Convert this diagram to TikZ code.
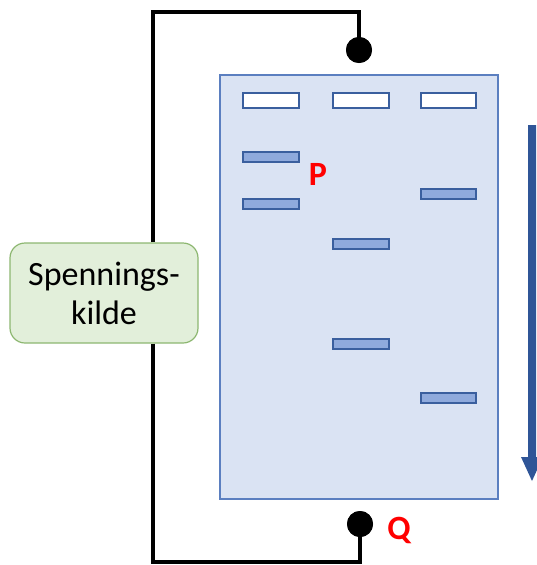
\documentclass[tikz,border=0pt]{standalone}
\usepackage{fontspec}
\setmainfont{Carlito}
\usetikzlibrary{calc}
\definecolor{gelfill}{HTML}{DAE3F3}
\definecolor{gelline}{HTML}{5B7FC0}
\definecolor{bandfill}{HTML}{8FAADC}
\definecolor{bandline}{HTML}{3A5F9E}
\definecolor{arrowblue}{HTML}{2F5597}
\definecolor{boxfill}{HTML}{E2EFDA}
\definecolor{boxline}{HTML}{8DB771}
\tikzset{
  wire/.style={line width=4pt, line join=miter},
  well/.style={draw=bandline, fill=white, line width=1.3pt},
  band/.style={draw=bandline, fill=bandfill, line width=1.3pt},
  electrode/.style={circle, fill=black, minimum size=26pt, inner sep=0pt},
  lbl/.style={text=red, font=\fontsize{34}{40}\selectfont\bfseries},
}
\begin{document}
\begin{tikzpicture}[x=1pt,y=-1pt]
\useasboundingbox (0,0) rectangle (537,565);
% gel
\draw[gelline, fill=gelfill, line width=1.2pt] (220,75) rectangle (498,499);
% wells
\draw[well] (243,93) rectangle (299,108);
\draw[well] (333,93) rectangle (389,108);
\draw[well] (421,93) rectangle (476,108);
% bands
\draw[band] (243,152) rectangle (299,162);
\draw[band] (243,199) rectangle (299,209);
\draw[band] (333,239) rectangle (389,249);
\draw[band] (333,339) rectangle (389,349);
\draw[band] (421,189) rectangle (476,199);
\draw[band] (421,393) rectangle (476,403);
% arrow
\fill[arrowblue] (528,125) -- (536,125) -- (536,457) -- (543,457) -- (532,481) -- (521,457) -- (528,457) -- cycle;
% source box
\node[draw=boxline, fill=boxfill, line width=1.2pt, rounded corners=15pt,
      minimum width=188pt, minimum height=100pt, align=center, inner sep=0pt,
      font=\fontsize{34}{39}\selectfont] (src) at (104,293) {Spennings-\\kilde};
% electrodes
\node[electrode] (top) at (359,50) {};
\node[electrode] (bot) at (360,524) {};
\coordinate (tl) at (153,12);
\coordinate (bl) at (153,562);
% wires
\draw[wire] (src.north -| tl) -- (tl) -- (tl -| top) -- (top.center);
\draw[wire] (src.south -| bl) -- (bl) -- (bl -| bot) -- (bot.center);
\node[electrode] at (top) {};
\node[electrode] at (bot) {};
% labels
\node[lbl] (P) at (318,174) {P};
\node[lbl] (Q) at (399,530) {Q};
\end{tikzpicture}
\end{document}
